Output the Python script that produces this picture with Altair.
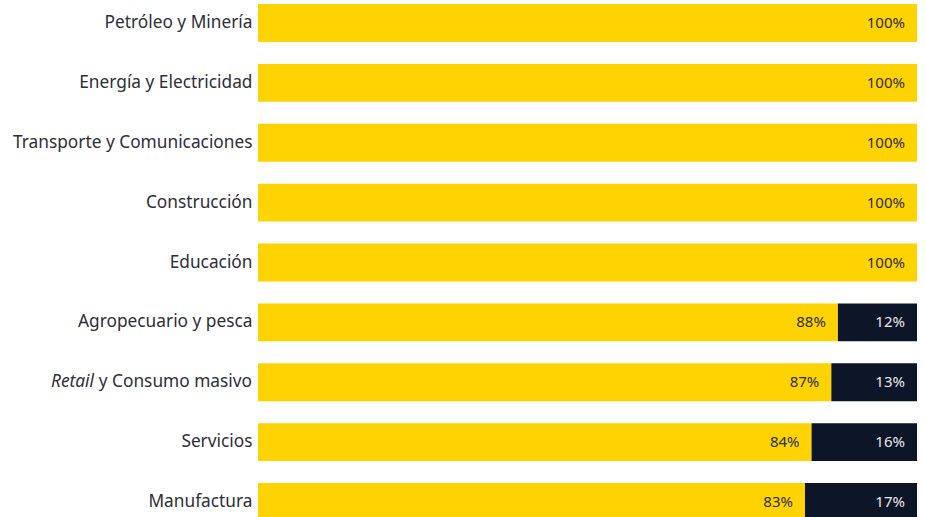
import altair as alt
import pandas as pd

categories = [
    "Petróleo y Minería",
    "Energía y Electricidad",
    "Transporte y Comunicaciones",
    "Construcción",
    "Educación",
    "Agropecuario y pesca",
    "Retail y Consumo masivo",
    "Servicios",
    "Manufactura",
]
yes_values = [100, 100, 100, 100, 100, 88, 87, 84, 83]
no_values = [0, 0, 0, 0, 0, 12, 13, 16, 17]
segments = ["Sí", "No"]
seg_colors = ["#FFD300", "#0D1628"]
text_colors = ["#2E2E38", "#E8E8EC"]

rows = []
for c, y, n in zip(categories, yes_values, no_values):
    for i, (s, v) in enumerate(zip(segments, [y, n])):
        if v > 0:
            rows.append({"cat": c, "seg": s, "order": i, "value": v, "label": f"{v}%"})
df = pd.DataFrame(rows)

FONT = "Noto Sans"
RETAIL = "Retail y Consumo masivo"

y_enc = alt.Y(
    "cat:N",
    sort=categories,
    scale=alt.Scale(paddingInner=0.366, paddingOuter=0.067),
    axis=alt.Axis(
        title=None, domain=False, ticks=False, labelPadding=6, labelLimit=400,
        labelFont=FONT, labelFontSize=17.3, labelColor="#2E2E38",
        labelExpr=f"datum.value == '{RETAIL}' ? '' : datum.value",
    ),
)

base = alt.Chart(df).transform_stack(
    stack="value", groupby=["cat"], as_=["v0", "v1"],
    sort=[alt.SortField("order", order="ascending")],
)

xscale = alt.Scale(domain=[0, 100], nice=False)

bars = base.mark_bar().encode(
    x=alt.X("v0:Q", scale=xscale, axis=None),
    x2="v1:Q",
    y=y_enc,
    color=alt.Color("seg:N", scale=alt.Scale(domain=segments, range=seg_colors), legend=None),
)

labels = base.mark_text(align="right", baseline="middle", font=FONT, fontSize=15, dx=-12).encode(
    x=alt.X("v1:Q", scale=xscale),
    y=alt.Y("cat:N", sort=categories),
    text="label:N",
    color=alt.Color("seg:N", scale=alt.Scale(domain=segments, range=text_colors), legend=None),
)

retail_df = pd.DataFrame({"cat": [RETAIL]})
retail_rest = alt.Chart(retail_df).mark_text(
    align="right", baseline="middle", font=FONT, fontSize=17.3, color="#2E2E38", dx=-6
).encode(x=alt.value(0), y=alt.Y("cat:N", sort=categories), text=alt.value("y Consumo masivo"))
retail_it = alt.Chart(retail_df).mark_text(
    align="right", baseline="middle", font=FONT, fontSize=17.3, fontStyle="italic",
    color="#2E2E38", dx=-164
).encode(x=alt.value(0), y=alt.Y("cat:N", sort=categories), text=alt.value("Retail"))

chart = alt.layer(bars, labels, retail_rest, retail_it).resolve_scale(color="independent").properties(
    width=659, height=525,
    autosize=alt.AutoSizeParams(type="none"),
    padding={"left": 258, "top": 0, "right": 0, "bottom": 0},
).configure_view(stroke=None)

chart.save("out.html", embed_options={"renderer": "svg", "actions": False})
